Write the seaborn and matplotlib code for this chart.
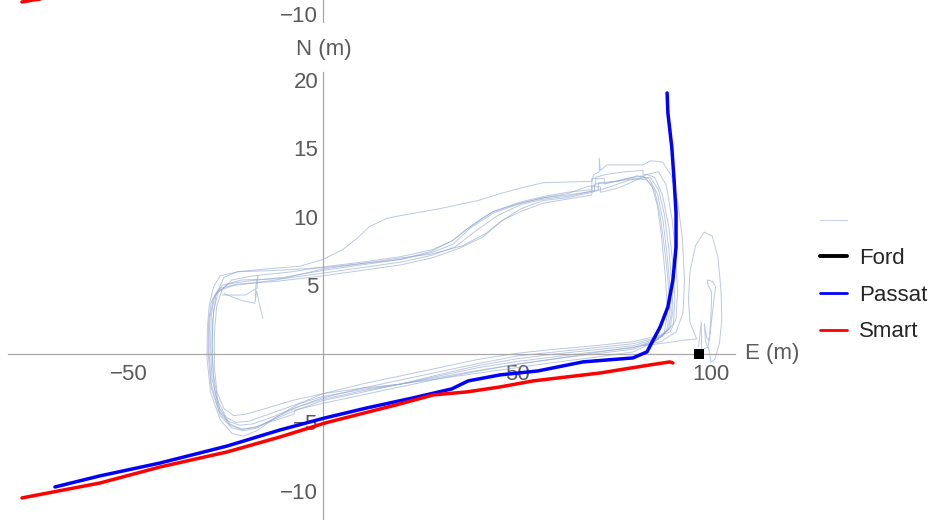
import matplotlib
matplotlib.use("Agg")
import matplotlib.pyplot as plt
from matplotlib.lines import Line2D
from matplotlib.ticker import FixedLocator, NullLocator
import pandas as pd
import seaborn as sns

# ---- vehicle tracks (E, N in metres) ----
passat_e = [-69.1, -57.5, -42.0, -24.7, -11.1, 0.5, 11.3, 23.2, 33.2, 37.4, 45.6,
            55.4, 67.0, 79.9, 83.5, 86.9, 88.9, 90.2, 91.0, 91.0, 90.5, 89.9, 88.9, 88.7]
passat_n = [-9.71, -8.9, -7.96, -6.72, -5.55, -4.67, -3.94, -3.21, -2.55, -1.97, -1.53,
            -1.24, -0.58, -0.29, 0.15, 1.97, 3.43, 5.40, 7.81, 10.29, 12.70, 15.11, 17.59, 19.05]

smart_e = [-77.6, -57.5, -42.0, -24.7, -11.1, 0.5, 19.8, 28.4, 37.1, 45.6, 54.1,
           71.4, 84.3, 89.4, 90.2]
smart_n = [-10.51, -9.42, -8.25, -7.15, -6.06, -5.04, -3.65, -2.99, -2.77, -2.41, -1.97,
           -1.39, -0.80, -0.58, -0.66]

ford_e = [96.9]
ford_n = [0.0]

# end of the Smart track in the panel above
smart_upper_e = [-77.6, -76.3, -75.0, -73.0]
smart_upper_n = [-9.12, -9.06, -8.99, -8.92]

# ---- reference laps around the test loop ----
lap1 = [(85.5, 0.9), (80, 0.15), (70, -0.25), (60, -0.6), (50, -1.0), (40, -1.4), (30, -1.8),
        (20, -2.2), (10, -2.5), (0, -2.9), (-8, -3.4), (-15, -4.0), (-20, -4.4), (-23, -4.5),
        (-25.5, -4.0), (-27.3, -2.8), (-28.0, -1.0), (-28.0, 1.5), (-27.4, 3.5), (-26.0, 4.7),
        (-23.5, 5.4), (-18, 5.7), (-8, 6.0), (0, 6.35), (10, 6.7), (20, 7.1), (28, 7.6),
        (33, 8.2), (37, 9.1), (41, 9.9), (44, 10.4), (51, 11.1), (57, 11.5), (63, 11.8),
        (69.3, 12.0), (69.3, 12.8), (72.5, 12.8), (72.5, 12.4), (78, 12.8), (82.5, 13.0),
        (84.8, 12.3), (86.2, 10.8), (87.3, 8.5), (88.3, 5.5), (88.8, 3.0), (88.0, 1.6),
        (85.5, 0.9)]

lap2 = [(86.0, 1.0), (80, 0.35), (70, 0.0), (60, -0.35), (50, -0.75), (40, -1.2), (30, -1.7),
        (20, -2.2), (10, -2.6), (0, -3.1), (-7, -3.7), (-14, -4.4), (-19, -4.9), (-22.5, -5.0),
        (-25.0, -4.6), (-27.0, -3.5), (-28.3, -1.5), (-28.6, 1.0), (-28.2, 3.2), (-27.0, 4.5),
        (-24.5, 5.1), (-20, 5.3), (-10, 5.6), (0, 6.1), (10, 6.5), (20, 6.9), (28, 7.4),
        (33.5, 8.0), (38, 9.2), (44, 10.3), (51, 11.0), (57, 11.4), (63, 11.6), (70, 11.9),
        (70, 12.4), (73.5, 12.5), (80, 12.8), (83.5, 12.7), (85.5, 11.9), (86.8, 10.3),
        (87.9, 8.0), (88.9, 5.5), (89.4, 3.2), (88.6, 1.7), (86.0, 1.0)]

lap3 = [(86.5, 1.1), (80, 0.45), (70, 0.15), (60, -0.2), (50, -0.55), (40, -1.0), (30, -1.6),
        (20, -2.2), (10, -2.7), (0, -3.3), (-7, -3.9), (-13, -4.6), (-18, -5.1), (-21.5, -5.2),
        (-24.5, -4.9), (-27.0, -3.8), (-28.6, -1.8), (-29.0, 0.5), (-28.8, 2.8), (-28.0, 4.2),
        (-26.0, 5.0), (-21, 5.4), (-10, 5.5), (0, 5.9), (10, 6.3), (20, 6.7), (28, 7.2),
        (34, 7.8), (39, 8.9), (45, 10.1), (51, 10.9), (56.7, 11.3), (62.9, 11.5), (68, 11.8),
        (71, 12.0), (71, 12.5), (76, 12.6), (81, 13.0), (84, 12.8), (86.2, 11.7), (87.6, 9.8),
        (88.6, 7.5), (89.4, 5.0), (89.8, 3.0), (89.0, 1.8), (86.5, 1.1)]

lap4 = [(87.0, 1.2), (80, 0.6), (70, 0.3), (60, 0.0), (50, -0.35), (40, -0.85), (30, -1.5),
        (20, -2.2), (10, -2.8), (0, -3.4), (-6, -4.0), (-12, -4.7), (-17, -5.3), (-21, -5.5),
        (-24.0, -5.2), (-26.8, -4.2), (-28.8, -2.2), (-29.4, 0.3), (-29.2, 2.6), (-28.3, 4.0),
        (-26.5, 4.8), (-22, 5.1), (-12, 5.3), (0, 5.7), (10, 6.1), (20, 6.5), (28, 7.0),
        (35, 7.7), (41, 8.5), (46, 9.7), (51, 10.6), (56.7, 11.2), (62.9, 11.4), (69.3, 11.8),
        (74, 12.2), (79, 12.7), (84.3, 12.9), (86.5, 12.0), (88.0, 10.2), (89.1, 7.8),
        (89.9, 5.2), (90.2, 3.2), (89.5, 1.9), (87.0, 1.2)]

lap5 = [(87.5, 1.3), (80, 0.75), (70, 0.45), (60, 0.15), (50, -0.15), (40, -0.7), (30, -1.3),
        (20, -1.9), (10, -2.5), (0, -3.2), (-6, -3.8), (-12, -4.6), (-17, -5.4), (-20.5, -5.6),
        (-23.5, -5.4), (-26.5, -4.5), (-28.8, -2.5), (-29.6, 0.0), (-29.5, 2.3), (-28.8, 3.8),
        (-27.2, 4.6), (-23, 5.0), (-12, 5.4), (0, 6.2), (10, 6.6), (20, 7.0), (28, 7.3),
        (36, 7.9), (42, 8.8), (46.5, 9.8), (51, 10.4), (56.7, 11.0), (62.9, 11.3), (69.3, 11.6),
        (69.3, 12.2), (71.5, 12.2), (71.5, 11.8), (76, 12.1), (80, 12.6), (83.5, 13.1),
        (85.5, 12.9), (87.5, 11.6), (89.2, 9.2), (90.2, 6.5), (90.7, 4.0), (90.3, 2.2),
        (87.5, 1.3)]

lap6 = [(87.5, 1.4), (80, 0.9), (70, 0.6), (60, 0.35), (50, 0.05), (40, -0.4), (30, -1.0),
        (20, -1.6), (10, -2.2), (0, -2.9), (-6, -3.6), (-12, -4.6), (-17, -5.6), (-20.5, -6.0),
        (-23.5, -5.8), (-26.5, -4.8), (-29.0, -2.8), (-29.9, -0.3), (-29.8, 2.0), (-29.3, 3.6),
        (-28.2, 4.9), (-26.5, 5.7), (-22, 6.0), (-12, 6.1), (0, 6.3), (10, 6.6), (20, 6.9),
        (28, 7.5), (33.5, 8.3), (37.5, 9.2), (43.8, 10.4), (50.8, 11.0), (56.7, 11.4),
        (63, 11.7), (68, 12.2), (70.3, 12.3), (70.3, 12.9), (73, 13.1), (78, 13.3),
        (82.5, 13.4), (82.5, 13.1), (83.5, 13.1), (86.5, 13.3), (88.5, 12.3), (90.0, 9.8),
        (91.0, 7.0), (91.4, 4.5), (91.0, 2.6), (89.5, 1.6), (87.5, 1.4)]

lap7 = [(87.0, 0.9), (80, 0.5), (70, 0.1), (60, -0.35), (50, -0.75), (40, -1.25), (30, -1.8),
        (20, -2.4), (10, -3.0), (0, -3.6), (-7.2, -4.1), (-7.5, -4.4), (-13, -4.9), (-18, -5.4),
        (-21, -5.5), (-24, -5.1), (-26.5, -4.2), (-28.0, -2.5), (-28.6, 0.0), (-28.4, 2.5),
        (-27.6, 4.3), (-25.5, 5.6), (-22, 6.0), (-15, 6.2), (-6, 6.4), (0, 6.9), (5, 7.6),
        (9, 8.5), (12, 9.3), (16.5, 9.9), (20, 10.1), (30, 10.6), (40, 11.2), (45.6, 11.7),
        (50.8, 12.1), (56.7, 12.5), (69.3, 12.6), (69.8, 13.1), (71.2, 13.3), (71.2, 14.3),
        (71.5, 13.4), (73.2, 13.8), (82.5, 13.8), (84.5, 14.1), (87.6, 14.0), (89.8, 13.0),
        (91.5, 11.0), (92.6, 8.5), (93.2, 5.4), (92.8, 3.0), (91.0, 1.6), (87.0, 0.9)]

parking_loop = [(82.5, 0.6), (88, 0.8), (93, 1.0), (96.3, 1.1), (94.6, 2.3), (94.2, 4.0),
                (94.6, 6.0), (96.0, 7.9), (98.3, 8.9), (100.3, 8.6), (101.8, 7.1), (102.6, 4.6),
                (102.8, 2.5), (102.2, 0.8), (101.0, -0.4), (100.0, -0.6), (99.5, 0.3),
                (98.6, 0.9), (98.3, 2.2), (98.9, 1.2), (99.6, 1.0), (100.0, 2.8), (100.2, 4.5),
                (99.3, 5.0), (99.0, 5.4), (100.4, 5.3), (101.2, 4.9), (100.7, 3.8), (100.0, 2.0),
                (99.2, 0.5), (97.6, 0.3), (97.5, 2.3), (96.8, 0.5)]

start_wiggle = [(-26.0, 4.3), (-20.1, 4.3), (-17.0, 4.8), (-16.8, 5.7), (-17.3, 5.0),
                (-17.5, 3.8), (-17.1, 4.6), (-16.2, 3.4), (-15.5, 2.6)]
start_wiggle2 = [(-25.5, 4.4), (-21.0, 3.9), (-17.5, 3.7)]

x_major = [-50, 50, 100]
x_minor = [-80, -70, -60, -40, -30, -20, -10, 0, 10, 20, 30, 40, 60, 70, 80, 90]
y_major = [-10, -5, 5, 10, 15, 20]
y_minor = [v for v in range(-12, 21) if v not in y_major]

legend_labels = ["", "Ford", "Passat", "Smart"]

# ---- tables for seaborn ----
traces = [lap1, lap2, lap3, lap4, lap5, lap6, lap7, parking_loop, start_wiggle, start_wiggle2]
laps_df = pd.concat(
    [pd.DataFrame(t, columns=["E", "N"]).assign(lap=i) for i, t in enumerate(traces)],
    ignore_index=True,
)
cars_df = pd.concat([
    pd.DataFrame({"E": passat_e, "N": passat_n, "vehicle": "Passat"}),
    pd.DataFrame({"E": smart_e, "N": smart_n, "vehicle": "Smart"}),
], ignore_index=True)

sns.set_theme(style="white")
plt.rcParams["font.family"] = ["Liberation Sans", "DejaVu Sans"]
plt.rcParams["axes.unicode_minus"] = True

W, H = 940, 520
fig = plt.figure(figsize=(W / 100, H / 100), dpi=100)
ax = fig.add_axes([8 / W, 0, 727 / W, 448 / H])
ax.patch.set_alpha(0)

lap_color = "#8ea5cf"
sns.lineplot(data=laps_df, x="E", y="N", units="lap", estimator=None, sort=False,
             color=lap_color, lw=0.7, alpha=0.6, legend=False, ax=ax, zorder=1)
sns.lineplot(data=cars_df, x="E", y="N", hue="vehicle", estimator=None, sort=False,
             palette={"Passat": "#0000ff", "Smart": "#ff0000"}, lw=2.5, legend=False,
             ax=ax, zorder=3)
sns.scatterplot(x=ford_e, y=ford_n, marker="s", s=45, color="black", linewidth=0,
                ax=ax, zorder=4)

ax.set_xlim(-81.2, 106.2)
ax.set_ylim(-12.12, 20.58)

axis_grey = "#a8a8a8"
label_grey = "#5a5a5a"
for side in ("top", "right"):
    ax.spines[side].set_visible(False)
for side in ("left", "bottom"):
    ax.spines[side].set_position(("data", 0))
    ax.spines[side].set_color(axis_grey)
    ax.spines[side].set_linewidth(0.9)

ax.xaxis.set_major_locator(FixedLocator(x_major))
ax.xaxis.set_minor_locator(FixedLocator(x_minor))
ax.yaxis.set_major_locator(FixedLocator(y_major))
ax.yaxis.set_minor_locator(FixedLocator(y_minor))
ax.tick_params(which="both", direction="in", colors=axis_grey, labelcolor=label_grey,
               labelsize=16, width=0.8)
ax.tick_params(which="major", length=3.6)
ax.tick_params(which="minor", length=2.2)
ax.tick_params(axis="x", which="major", pad=7.5)
ax.tick_params(axis="y", which="major", pad=3.5)

ax.set_xlabel("E (m)", fontsize=16, color=label_grey, ha="left", va="center")
ax.xaxis.set_label_coords((745 - 8) / 727, (520 - 354) / 448)
ax.set_ylabel("N (m)", fontsize=16, color=label_grey, rotation=0, ha="center", va="center")
ax.yaxis.set_label_coords((323.5 - 8) / 727, (520 - 50) / 448)

handles = [
    Line2D([], [], color="#c8d2e8", lw=0.8),
    Line2D([], [], color="black", lw=2.8),
    Line2D([], [], color="#0000ff", lw=2.0),
    Line2D([], [], color="#ff0000", lw=2.0),
]
ax.legend(handles, legend_labels, loc="center left", bbox_to_anchor=(820 / W, 1 - 277 / H),
          bbox_transform=fig.transFigure, frameon=False, fontsize=16, handlelength=1.2,
          handletextpad=0.55, labelspacing=0.7, borderpad=0, borderaxespad=0)

# bottom strip of the panel above
ax_top = fig.add_axes([8 / W, 1 - 22 / H, 727 / W, 22 / H])
ax_top.patch.set_alpha(0)
sns.lineplot(x=smart_upper_e, y=smart_upper_n, sort=False, estimator=None,
             color="#ff0000", lw=2.5, ax=ax_top)
ax_top.set_xlim(-81.2, 106.2)
ax_top.set_ylim(-10.584, -8.978)
for side in ("top", "right", "bottom"):
    ax_top.spines[side].set_visible(False)
ax_top.spines["left"].set_position(("data", 0))
ax_top.spines["left"].set_color(axis_grey)
ax_top.spines["left"].set_linewidth(0.9)
ax_top.xaxis.set_major_locator(NullLocator())
ax_top.yaxis.set_major_locator(FixedLocator([-10]))
ax_top.tick_params(direction="in", colors=axis_grey, labelcolor=label_grey, labelsize=16,
                   length=3.6, width=0.8, pad=3.5)
ax_top.set_xlabel("")
ax_top.set_ylabel("")

fig.savefig("out.png", dpi=100)
